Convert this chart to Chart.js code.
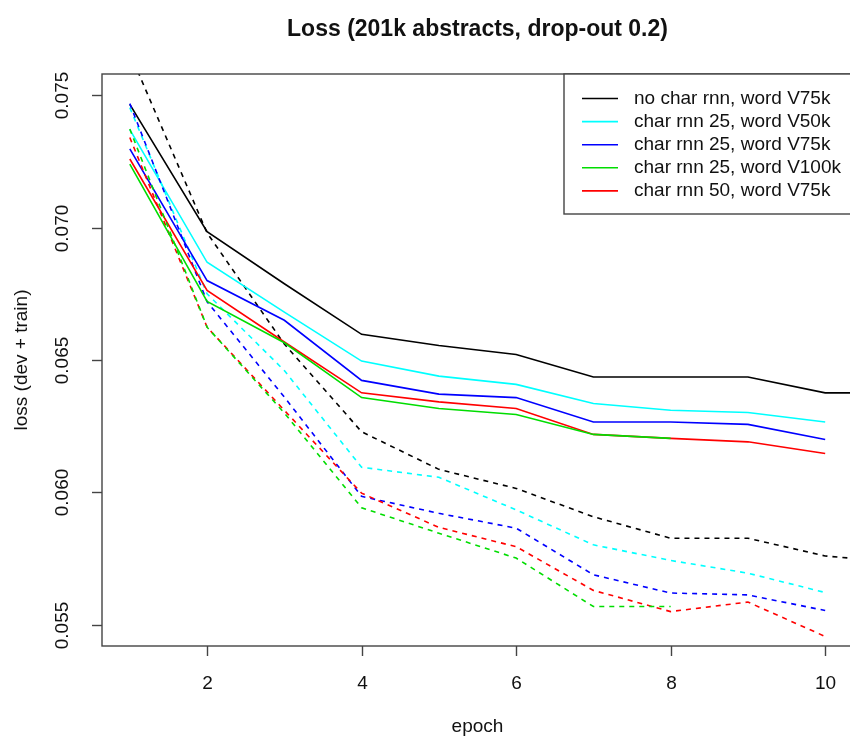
<!DOCTYPE html>
<html>
<head>
<meta charset="utf-8">
<script src="https://cdn.jsdelivr.net/npm/chart.js@4.4.1/dist/chart.umd.min.js"></script>
<style>
  html, body { margin: 0; padding: 0; background: #fff; overflow: hidden; }
  #wrap { width: 850px; height: 738px; overflow: hidden; }
</style>
</head>
<body>
<div id="wrap"><canvas id="lossChart" width="870" height="738"></canvas></div>
<script>
// epochs
const epochs8 = [1, 2, 3, 4, 5, 6, 7, 8];
const epochs10 = [1, 2, 3, 4, 5, 6, 7, 8, 9, 10];
const epochs11 = [1, 2, 3, 4, 5, 6, 7, 8, 9, 10, 11];

// loss values, solid = dev+train first curve, dashed = second curve
const noCharV75k = [0.07465, 0.06985, 0.06788, 0.06597, 0.06555, 0.06521, 0.06436, 0.06436, 0.06436, 0.06376, 0.06376];
const noCharV75kDash = [0.0766, 0.0698, 0.0656, 0.06229, 0.06087, 0.06015, 0.05908, 0.05827, 0.05827, 0.0576, 0.05735];
const rnn25V50k = [0.0737, 0.06869, 0.06681, 0.06496, 0.06439, 0.06408, 0.06336, 0.0631, 0.06302, 0.06266];
const rnn25V50kDash = [0.07453, 0.0675, 0.0646, 0.06095, 0.06057, 0.05934, 0.05802, 0.05743, 0.05695, 0.05622];
const rnn25V75k = [0.07297, 0.068, 0.0665, 0.06423, 0.06371, 0.06358, 0.06266, 0.06266, 0.06257, 0.062];
const rnn25V75kDash = [0.07468, 0.0672, 0.0636, 0.05985, 0.05921, 0.05865, 0.05689, 0.0562, 0.05613, 0.05554];
const rnn25V100k = [0.0724, 0.06721, 0.06565, 0.06358, 0.06317, 0.06294, 0.06219, 0.06204];
const rnn25V100kDash = [0.07372, 0.06624, 0.063, 0.05942, 0.05846, 0.05752, 0.05569, 0.05569];
const rnn50V75k = [0.07259, 0.06763, 0.06568, 0.06376, 0.06342, 0.06317, 0.06219, 0.06204, 0.06191, 0.06147];
const rnn50V75kDash = [0.0734, 0.06624, 0.0631, 0.05997, 0.05868, 0.05795, 0.0563, 0.0555, 0.05586, 0.05456];

const legendLabels = [
  "no char rnn, word V75k",
  "char rnn 25, word V50k",
  "char rnn 25, word V75k",
  "char rnn 25, word V100k",
  "char rnn 50, word V75k"
];
const seriesColors = ["#000000", "#00ffff", "#0000ff", "#00dd00", "#ff0000"];

const xTicks = [2, 4, 6, 8, 10];
const yTicks = [0.055, 0.06, 0.065, 0.07, 0.075];
const yTickLabels = ["0.055", "0.060", "0.065", "0.070", "0.075"];

const FONT = '"Liberation Sans", Arial, sans-serif';

function pts(xs, ys) {
  return ys.map((v, i) => ({ x: xs[i], y: v }));
}

function line(data, color, dashed, order) {
  return {
    data: data,
    borderColor: color,
    borderWidth: 1.6,
    borderDash: dashed ? [5, 5] : [],
    pointRadius: 0,
    tension: 0,
    fill: false,
    order: order
  };
}

// R style box, ticks, labels and legend
const rAxes = {
  id: "rAxes",
  beforeDraw(chart) {
    const ctx = chart.ctx;
    ctx.save();
    ctx.fillStyle = "#fff";
    ctx.fillRect(0, 0, chart.width, chart.height);
    ctx.restore();
  },
  afterDraw(chart) {
    const ctx = chart.ctx;
    const a = chart.chartArea;
    const xs = chart.scales.x;
    const ys = chart.scales.y;
    ctx.save();

    ctx.strokeStyle = "#444";
    ctx.lineWidth = 1.4;
    ctx.strokeRect(a.left, a.top, a.right - a.left, a.bottom - a.top);

    ctx.fillStyle = "#111";
    ctx.font = "19px " + FONT;
    ctx.textAlign = "center";
    ctx.textBaseline = "middle";

    // x axis
    xTicks.forEach(t => {
      const px = Math.round(xs.getPixelForValue(t)) + 0.5;
      ctx.beginPath();
      ctx.moveTo(px, a.bottom);
      ctx.lineTo(px, a.bottom + 10);
      ctx.stroke();
      ctx.fillText(String(t), px, a.bottom + 38);
    });
    ctx.fillText("epoch", (a.left + a.right) / 2, 727);

    // y axis
    yTicks.forEach((t, i) => {
      const py = Math.round(ys.getPixelForValue(t)) + 0.5;
      ctx.beginPath();
      ctx.moveTo(a.left, py);
      ctx.lineTo(a.left - 10, py);
      ctx.stroke();
      ctx.save();
      ctx.translate(63, py);
      ctx.rotate(-Math.PI / 2);
      ctx.fillText(yTickLabels[i], 0, 0);
      ctx.restore();
    });
    ctx.save();
    ctx.translate(22, (a.top + a.bottom) / 2);
    ctx.rotate(-Math.PI / 2);
    ctx.fillText("loss (dev + train)", 0, 0);
    ctx.restore();

    // title
    ctx.font = "bold 23px " + FONT;
    ctx.fillText("Loss (201k abstracts, drop-out 0.2)", (a.left + a.right) / 2, 30);

    // legend
    const lx = 564, ly = a.top, lw = a.right - 564, lh = 140;
    ctx.fillStyle = "#fff";
    ctx.fillRect(lx, ly, lw, lh);
    ctx.strokeRect(lx, ly, lw, lh);
    ctx.font = "19px " + FONT;
    ctx.textAlign = "left";
    legendLabels.forEach((lab, i) => {
      const y = ly + 24.5 + i * 23.1;
      ctx.strokeStyle = seriesColors[i];
      ctx.lineWidth = 1.6;
      ctx.beginPath();
      ctx.moveTo(582, y);
      ctx.lineTo(618, y);
      ctx.stroke();
      ctx.fillStyle = "#111";
      ctx.fillText(lab, 634, y);
    });

    ctx.restore();
  }
};

new Chart(document.getElementById("lossChart"), {
  type: "line",
  data: {
    datasets: [
      line(pts(epochs11, noCharV75k), seriesColors[0], false, 9),
      line(pts(epochs11, noCharV75kDash), seriesColors[0], true, 8),
      line(pts(epochs10, rnn25V50k), seriesColors[1], false, 7),
      line(pts(epochs10, rnn25V50kDash), seriesColors[1], true, 6),
      line(pts(epochs10, rnn25V75k), seriesColors[2], false, 5),
      line(pts(epochs10, rnn25V75kDash), seriesColors[2], true, 4),
      line(pts(epochs10, rnn50V75k), seriesColors[4], false, 3),
      line(pts(epochs10, rnn50V75kDash), seriesColors[4], true, 2),
      line(pts(epochs8, rnn25V100k), seriesColors[3], false, 1),
      line(pts(epochs8, rnn25V100kDash), seriesColors[3], true, 0)
    ]
  },
  options: {
    responsive: false,
    animation: false,
    layout: { padding: { left: 102, top: 74, right: 17, bottom: 92 } },
    plugins: {
      legend: { display: false },
      title: { display: false },
      tooltip: { enabled: false }
    },
    scales: {
      x: { type: "linear", display: false, min: 0.64, max: 10.36 },
      y: { type: "linear", display: false, min: 0.0542, max: 0.0758 }
    }
  },
  plugins: [rAxes]
});
</script>
</body>
</html>
